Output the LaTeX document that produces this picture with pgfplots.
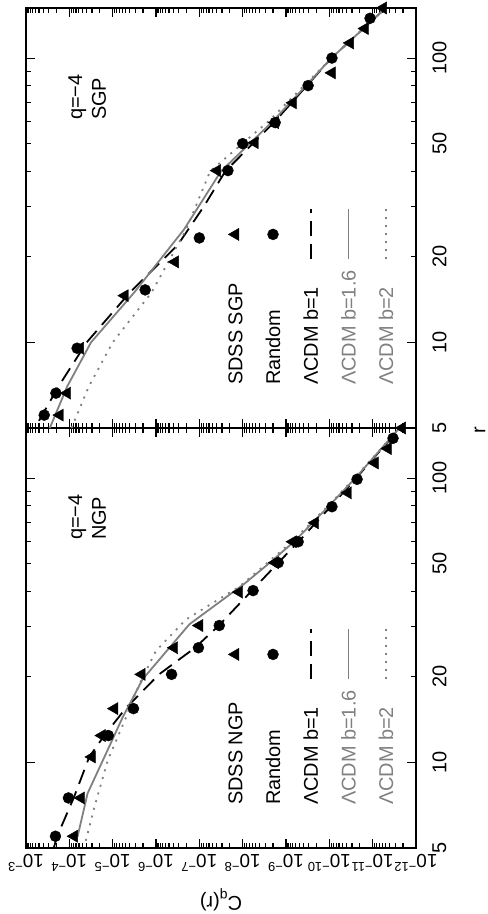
\documentclass[border=0pt]{standalone}
\usepackage{fontspec}
\setmainfont{Liberation Sans}
\usepackage{pgfplots}
\usepgfplotslibrary{groupplots}
\usetikzlibrary{calc}
\pgfplotsset{compat=1.18}
\definecolor{lcdmgray}{HTML}{808080}

% tick label 10^-n with a readable superscript
\newcommand{\dec}[1]{10\raisebox{0.42em}{\fontsize{13}{15}\selectfont −#1}}

\pgfplotsset{
  sdss/.style={only marks, mark=triangle*, mark size=7bp,
    mark options={fill=black, draw=black},
    legend image code/.code={\draw[##1] plot coordinates {(25bp,0bp)};}},
  rand/.style={only marks, mark=*, mark size=5.5bp,
    mark options={fill=black, draw=black},
    legend image code/.code={\draw[##1] plot coordinates {(25bp,0bp)};}},
  bone/.style={black, line width=1.8bp, dash pattern=on 15bp off 8bp,
    legend image code/.code={\draw[##1] (0bp,0bp) -- (50bp,0bp);}},
  bonesix/.style={lcdmgray, line width=1.8bp,
    legend image code/.code={\draw[##1] (0bp,0bp) -- (50bp,0bp);}},
  btwo/.style={lcdmgray, line width=1.8bp, dash pattern=on 2bp off 6bp,
    legend image code/.code={\draw[##1] (0bp,0bp) -- (50bp,0bp);}},
}

\begin{document}
\begin{tikzpicture}[font=\fontsize{20}{24}\selectfont]
\begin{scope}[transform canvas={rotate=90}]
\begin{groupplot}[
  group style={group size=2 by 1, horizontal sep=0pt},
  scale only axis, width=420bp, height=390bp,
  xmode=log, ymode=log,
  xmin=5, xmax=150, ymin=1e-12, ymax=1e-3,
  clip=false,
  axis line style={line width=1.6bp},
  tick style={line width=1.1bp, black},
  major tick length=9bp, minor tick length=5bp,
  ytick={1e-12,1e-11,1e-10,1e-9,1e-8,1e-7,1e-6,1e-5,1e-4,1e-3},
  xtick={10,100},
  xticklabels={10,100},
  extra x ticks={5,20,50},
  extra x tick labels={5,20,50},
  extra x tick style={major tick length=0pt},
  xticklabel shift=13bp,
  yticklabel style={rotate=90, anchor=south, inner sep=2bp,
    font=\fontsize{19}{23}\selectfont},
  yticklabel shift=4bp,
  legend cell align=left,
  legend plot pos=right,
  legend style={draw=none, fill=none,
    at={(axis description cs:0.102,0.482)}, anchor=north west,
    inner sep=0pt, row sep=23.5bp, column sep=10bp,
    nodes={inner sep=0pt, text height=14.2bp, text depth=0bp}},
]

% ---------------- NGP (left, lower in the page) ----------------
\nextgroupplot[
  yticklabels={\dec{12},\dec{11},\dec{10},\dec{9},\dec{8},\dec{7},\dec{6},\dec{5},\dec{4},\dec{3}},
  every axis y label/.style={at={(axis description cs:-0.124,0.5)}, rotate=90, anchor=center},
  ylabel={C\raisebox{-0.25em}{\fontsize{14}{16}\selectfont q}(r)},
  every axis x label/.style={at={(axis description cs:0.995,-0.164)}, anchor=center},
  xlabel={r}]
\addplot[sdss] coordinates {
  (5.5,7.76e-5) (7.5,5.37e-5) (10.45,3.02e-5) (12.43,1.78e-5) (15.46,9.12e-6)
  (20.4,2.14e-6) (25.3,3.80e-7) (30.3,1.00e-7) (39.7,1.20e-8) (50.4,1.78e-9)
  (59.7,6.92e-10) (69.6,2.14e-10) (88.7,3.72e-11) (113,8.91e-12) (127,4.47e-12)
  (150,2.09e-12)};
\addlegendentry{SDSS NGP}
\addplot[rand] coordinates {
  (5.5,2.09e-4) (7.5,1.05e-4) (12.43,1.26e-5) (15.46,3.31e-6) (20.4,4.37e-7)
  (25.3,1.05e-7) (30.3,3.47e-8) (40.2,5.75e-9) (50.4,1.51e-9) (59.7,5.25e-10)
  (79.3,8.71e-11) (99,2.29e-11) (138,3.39e-12)};
\addlegendentry{Random}
\addplot[bone] coordinates {
  (5,2.29e-4) (5.5,1.91e-4) (7.5,7.94e-5) (10.45,3.47e-5) (12.4,1.58e-5)
  (15.5,5.01e-6) (20.4,8.51e-7) (25.3,1.26e-7) (30.3,3.55e-8) (40,6.31e-9)
  (50,1.58e-9) (60,5.01e-10) (80,8.91e-11) (100,2.40e-11) (150,2.34e-12)};
\addlegendentry{ΛCDM b=1}
\addplot[bonesix] coordinates {
  (5.48,6.46e-5) (7.78,3.80e-5) (10.45,1.55e-5) (14.4,5.89e-6) (19.6,2.04e-6)
  (30.6,1.70e-7) (42.5,9.12e-9) (50,2.51e-9) (60,6.31e-10) (80,1.00e-10)
  (100,2.51e-11) (150,2.40e-12)};
\addlegendentry{\textcolor{lcdmgray}{ΛCDM b=1.6}}
\addplot[btwo] coordinates {
  (5.3,4.17e-5) (6.98,2.63e-5) (10.2,1.29e-5) (14.4,4.90e-6) (18.9,2.40e-6)
  (24.7,1.00e-6) (31.8,2.04e-7) (41.5,1.20e-8) (50,2.82e-9) (60,7.08e-10)
  (80,1.05e-10) (100,2.63e-11) (150,2.40e-12)};
\addlegendentry{\textcolor{lcdmgray}{ΛCDM b=2}}
\node[anchor=north west, align=left, inner sep=0pt]
  at (axis description cs:0.733,0.892) {q=−4\\NGP};

% ---------------- SGP (right, upper in the page) ----------------
\nextgroupplot[yticklabels={}]
\addplot[sdss] coordinates {
  (5.55,1.66e-4) (6.63,1.12e-4) (9.54,5.62e-5) (14.6,5.25e-6) (19.2,3.63e-7)
  (40.2,3.89e-8) (50.4,5.25e-9) (59.3,1.78e-9) (69.6,6.92e-10) (88.7,8.71e-11)
  (113,3.31e-11) (127,1.51e-11) (150,5.75e-12)};
\addlegendentry{SDSS SGP}
\addplot[rand] coordinates {
  (5.55,3.80e-4) (6.63,2.04e-4) (9.54,6.61e-5) (15.3,1.78e-6) (23.3,1.00e-7)
  (40.2,2.19e-8) (50,1.00e-8) (59.3,1.78e-9) (80,3.09e-10) (100,8.71e-11)
  (138,1.15e-11)};
\addlegendentry{Random}
\addplot[bone] coordinates {
  (5.3,5.01e-4) (7,1.78e-4) (10,3.98e-5) (15,3.98e-6) (22,3.16e-7) (30,7.94e-8)
  (40,2.51e-8) (60,1.78e-9) (100,8.91e-11) (150,5.01e-12)};
\addlegendentry{ΛCDM b=1}
\addplot[bonesix] coordinates {
  (5,2.82e-4) (7,1.12e-4) (10,3.16e-5) (15,3.16e-6) (25,2.24e-7) (40,3.16e-8)
  (60,2.00e-9) (100,8.91e-11) (150,5.01e-12)};
\addlegendentry{\textcolor{lcdmgray}{ΛCDM b=1.6}}
\addplot[btwo] coordinates {
  (5,8.91e-5) (7,3.55e-5) (10,1.00e-5) (15,1.26e-6) (25,2.00e-7) (40,5.62e-8)
  (60,2.51e-9) (100,8.91e-11) (150,5.01e-12)};
\addlegendentry{\textcolor{lcdmgray}{ΛCDM b=2}}
\node[anchor=north west, align=left, inner sep=0pt]
  at (axis description cs:0.733,0.892) {q=−4\\SGP};
\end{groupplot}
\end{scope}

\pgfresetboundingbox
\path[use as bounding box] let \p1=(group c1r1.south west) in
  (-\y1-416bp,\x1-66bp) rectangle (-\y1+72bp,\x1+848bp);
\end{tikzpicture}
\end{document}
